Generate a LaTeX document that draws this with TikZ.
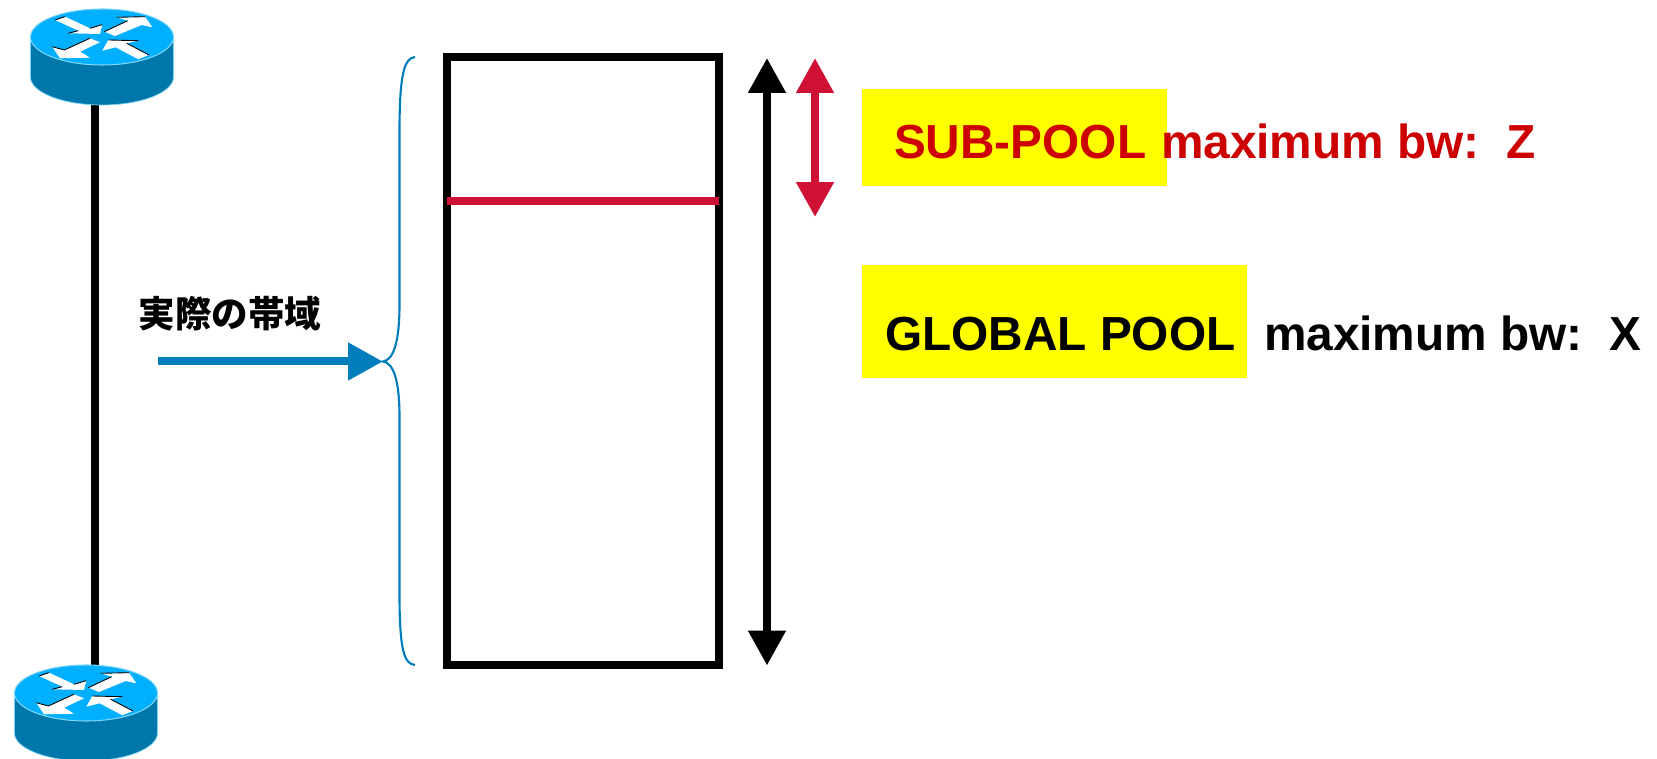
\documentclass[tikz,border=0pt]{standalone}
\usepackage{fontspec}
\setmainfont{Liberation Sans}
\newfontfamily\cjk{Noto Sans CJK JP}
\usepackage{tikz}
\usetikzlibrary{arrows.meta}

\definecolor{routertop}{HTML}{00B0FF}
\definecolor{routerside}{HTML}{0077AA}
\definecolor{routerrim}{HTML}{7FD4F5}
\definecolor{linkblue}{HTML}{007DBC}
\definecolor{poolred}{HTML}{CE1135}
\definecolor{textred}{HTML}{CC0000}
\definecolor{markyellow}{HTML}{FFFF00}

\tikzset{
    routerbox/.style={inner sep=0pt, outer sep=0pt, minimum width=2.86cm, minimum height=1.88cm},
    arrowshape/.style={fill=white},
    arrowedge/.style={draw=black, line width=0.5pt},
    fatline/.style={line width=0.16cm},
    poolbox/.style={draw=black, fatline, inner sep=0pt, outer sep=0pt},
    yellowbox/.style={fill=markyellow, inner sep=0pt, outer sep=0pt},
    pooltext/.style={anchor=base west, inner sep=0pt, outer sep=0pt, font=\fontsize{27.2}{32}\selectfont\bfseries},
    bigtip/.style={>={Triangle[length=0.7cm,width=0.72cm]}},
    pics/routerpic/.style={code={
        \path[fill=routerside, draw=routerrim, line width=0.4pt] (-71.5,0) -- (-71.5,40)
            arc[start angle=180, end angle=0, x radius=71.5, y radius=28] -- (71.5,0) -- cycle;
        \path[fill=routertop, draw=routerrim, line width=0.6pt] (0,0) circle[x radius=71.5, y radius=28];
        \fill[arrowshape] (-37,-20.3) -- (-12,-8.7) -- (0.3,-12.3) -- (-2,-3) -- (-33.7,-3.7) -- (-23.7,-6.3) -- (-47,-17) -- cycle;
        \fill[arrowshape] (2.3,-5.3) -- (25.7,-16.3) -- (14.7,-19.7) -- (43,-20.3) -- (50.3,-9.7) -- (39.7,-12) -- (13,-1) -- cycle;
        \fill[arrowshape] (-12,1.3) -- (-2,5.3) -- (-22,14.7) -- (-12,20.7) -- (-42,21.3) -- (-49.7,9.7) -- (-37.7,13) -- cycle;
        \fill[arrowshape] (0.3,13.7) -- (6.3,3) -- (36.3,3.7) -- (24.7,6.3) -- (47,18) -- (36.3,22.3) -- (13.7,10.3) -- cycle;
        \draw[arrowedge] (-47,-17) -- (-37,-20.3) (-33.7,-3.7) -- (-23.7,-6.3) (-12,-8.7) -- (0.3,-12.3);
        \draw[arrowedge] (2.3,-5.3) -- (25.7,-16.3) (14.7,-19.7) -- (43,-20.3);
        \draw[arrowedge] (-37.7,13) -- (-12,1.3) (-49.7,9.7) -- (-37.7,13);
        \draw[arrowedge] (6.3,3) -- (36.3,3.7) (24.7,6.3) -- (47,18);
    }}
}

\begin{document}
\begin{tikzpicture}[x=0.02cm, y=-0.02cm]
    \useasboundingbox (0,0) rectangle (1657,759);

    \node[routerbox] (rta) at (102,57) {};
    \node[routerbox] (rtb) at (86,713) {};
    \coordinate (lnk) at (95,0);

    \draw[black, fatline] (lnk |- rta.south) -- (lnk |- rtb.north);

    \pic at (102,37) {routerpic};
    \pic at (86,693) {routerpic};

    \node[anchor=center, inner sep=0pt, font=\cjk\fontsize{20.8}{24}\selectfont\bfseries] (bwlabel) at (230,314) {実際の帯域};

    \coordinate (bwtail) at (158,361.5);
    \coordinate (brtip) at (383,361.5);
    \coordinate (brtop) at (415,57);
    \coordinate (brbot) at (415,665);

    \draw[linkblue, line width=1.2pt] (brtop)
        .. controls (404,58) and (400,75) .. (399.5,125) -- (399.5,305)
        .. controls (399.5,340) and (394,360) .. (brtip)
        .. controls (394,363) and (399.5,382) .. (399.5,417) -- (399.5,600)
        .. controls (400,650) and (404,664) .. (brbot);

    \node[poolbox, minimum width=5.46cm, minimum height=12.17cm] (bwbox) at (583,361) {};
    \coordinate (subline) at (0,201);

    \coordinate (maxtop) at (767,58);
    \coordinate (maxbot) at (767,665.5);
    \coordinate (subtop) at (815,58);
    \coordinate (subbot) at (815,217);

    \node[yellowbox, minimum width=6.1cm, minimum height=1.94cm] (subbox) at (1014.5,137.5) {};
    \node[yellowbox, minimum width=7.7cm, minimum height=2.26cm] (globalbox) at (1054.5,321.5) {};

    \node[pooltext, text=textred] (subname) at (894,159) {SUB-POOL};
    \node[pooltext, text=textred] (submax) at (1161,159) {maximum bw:\ \ Z};
    \node[pooltext] (globalname) at (885,350.5) {GLOBAL POOL};
    \node[pooltext] (globalmax) at (1264,350.5) {maximum bw:\ \ X};

    \path 
        (bwbox.west |- subline)
            edge [poolred, fatline] node {} (bwbox.east |- subline)
        (maxtop)
            edge [<->, bigtip, black, fatline] node {} (maxbot)
        (subtop)
            edge [<->, bigtip, poolred, fatline] node {} (subbot)
        (bwtail)
            edge [->, bigtip, linkblue, fatline] node {} (brtip)
    ;
\end{tikzpicture}
\end{document}
